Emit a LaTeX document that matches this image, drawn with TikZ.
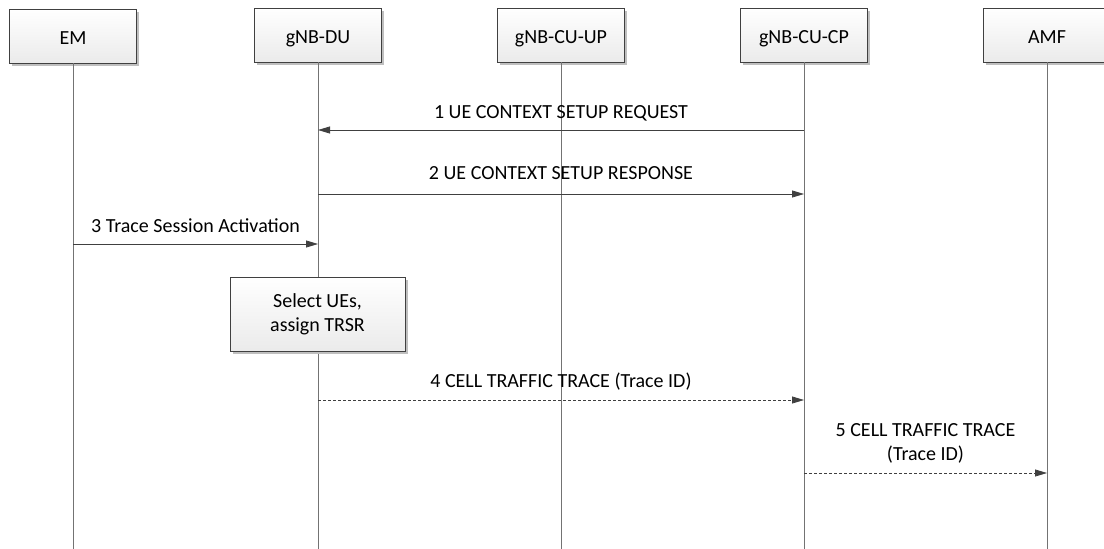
\documentclass[tikz,border=0pt]{standalone}
\usepackage{fontspec}
\setmainfont{Carlito}
\usetikzlibrary{arrows.meta,shadows}

\begin{document}
\begin{tikzpicture}[
        x=1pt, y=-1pt,
        >={Triangle[length=12pt,width=7pt]},
        font=\fontsize{20}{24}\selectfont,
        box/.style={draw=black!75, line width=0.8pt, top color=white, bottom color=black!8,
            inner sep=0pt,
            drop shadow={shadow xshift=2.5pt, shadow yshift=-2.5pt, fill=black!25, opacity=1}},
        entity/.style={box, minimum width=127pt, minimum height=54pt, text height=20pt, text depth=3pt},
        lifeline/.style={draw=black!55, line width=1pt},
        msg/.style={->, color=black!75, line width=0.8pt},
        tracemsg/.style={msg, dash pattern=on 3pt off 2pt},
        lbl/.style={anchor=base, yshift=13pt, text=black},
    ]
        \useasboundingbox (0,0) rectangle (1104,549);

        % Entities
        \node[entity] (em) at (73,36) {EM};
        \node[entity] (du) at (318,35) {gNB-DU};
        \node[entity] (cuup) at (561,35) {gNB-CU-UP};
        \node[entity] (cucp) at (804,35) {gNB-CU-CP};
        \node[entity] (amf) at (1047,35) {AMF};

        % Lifelines
        \foreach \ent in {em, du, cuup, cucp, amf}
            \draw[lifeline] (\ent.south) -- (\ent.south |- 0,549);

        % 1. Context setup
        \draw[msg] (cucp |- 0,130) --
            node[lbl, yshift=-1pt] {1 UE CONTEXT SETUP REQUEST}
            (du |- 0,130);
        \draw[msg] (du |- 0,194) --
            node[lbl, yshift=2pt] {2 UE CONTEXT SETUP RESPONSE}
            (cucp |- 0,194);

        % 3. Trace activation from EM
        \draw[msg] (em |- 0,244) --
            node[lbl, yshift=-1pt] {3 Trace Session Activation}
            (du |- 0,244);

        % Local action at the DU
        \node[box, minimum width=175pt, minimum height=74pt, align=center] (select)
            at (317.5,314) {Select UEs,\\assign TRSR};

        % 4./5. Cell traffic trace
        \draw[tracemsg] (du |- 0,400) --
            node[lbl] {4 CELL TRAFFIC TRACE (Trace ID)}
            (cucp |- 0,400);
        \draw[tracemsg] (cucp |- 0,473) --
            node[lbl, align=center] {5 CELL TRAFFIC TRACE\\(Trace ID)}
            (amf |- 0,473);
    \end{tikzpicture}
\end{document}
